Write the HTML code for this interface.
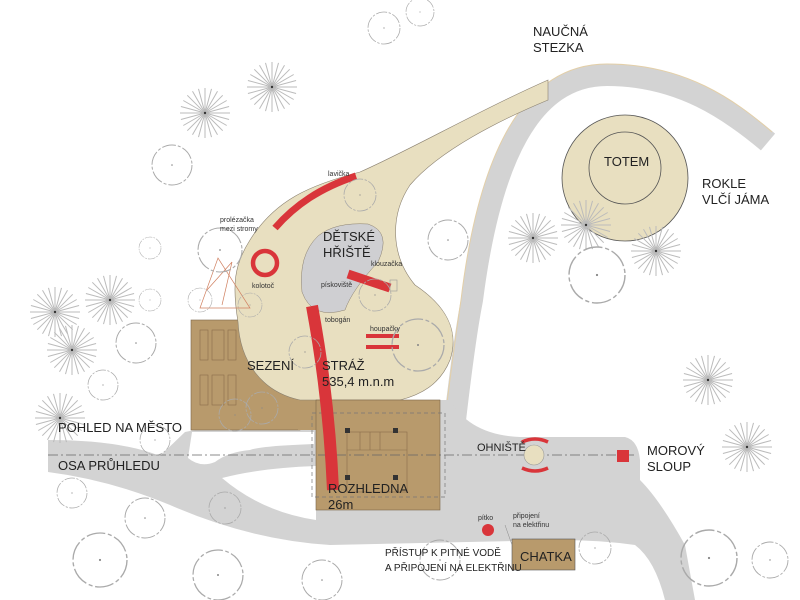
<!DOCTYPE html>
<html><head><meta charset="utf-8"><style>
html,body{margin:0;padding:0;background:#fff;}
svg{display:block;}
text{font-family:"Liberation Sans",sans-serif;fill:#222;}
.L{font-size:13px;}
.s{font-size:7px;fill:#333;}
</style></head><body>
<svg width="800" height="600" viewBox="0 0 800 600" xmlns="http://www.w3.org/2000/svg">
<defs>
<g id="st" stroke="#bbb" stroke-width="1" vector-effect="non-scaling-stroke">
<line x1="25" y1="0" x2="-25" y2="0"/><line x1="24.1" y1="6.5" x2="-24.1" y2="-6.5"/>
<line x1="21.7" y1="12.5" x2="-21.7" y2="-12.5"/><line x1="17.7" y1="17.7" x2="-17.7" y2="-17.7"/>
<line x1="12.5" y1="21.7" x2="-12.5" y2="-21.7"/><line x1="6.5" y1="24.1" x2="-6.5" y2="-24.1"/>
<line x1="0" y1="25" x2="0" y2="-25"/><line x1="-6.5" y1="24.1" x2="6.5" y2="-24.1"/>
<line x1="-12.5" y1="21.7" x2="12.5" y2="-21.7"/><line x1="-17.7" y1="17.7" x2="17.7" y2="-17.7"/>
<line x1="-21.7" y1="12.5" x2="21.7" y2="-12.5"/><line x1="-24.1" y1="6.5" x2="24.1" y2="-6.5"/>
<circle r="1.2" fill="#333" stroke="none"/>
</g>
<g id="tr"><circle r="20" fill="none" stroke="#aaa" stroke-width="1" stroke-dasharray="14 2 3 2"/><circle r="0.8" fill="#888"/></g>
</defs>

<!-- curved path road -->
<path d="M455 420 C462 360 468 320 472 300 C490 160 530 75 607 75 C680 75 730 110 768 142" fill="none" stroke="#d3d3d3" stroke-width="22"/>
<path d="M445 420 C452 360 458 320 461 300 C479 150 525 64 607 64 C685 64 735 100 772 132" fill="none" stroke="#e3cfa8" stroke-width="1"/>

<!-- main grey area -->
<path d="M48 440 Q120 440 160 456 L185 432 L195 430 L315 430 L315 400 L450 400 Q470 435 520 437 L625 437 Q638 440 640 460 L640 480 Q660 500 685 545 L695 600 L665 600 Q655 560 635 545 Q600 540 560 540 L330 545 Q250 540 170 505 Q110 480 48 472 Z" fill="#d3d3d3"/>
<!-- white islands -->
<path d="M222 478 Q260 468 316 466 L316 520 Q262 512 222 478 Z" fill="#fff"/>
<path d="M192 432 L314 432 L314 444 Q260 446 250 450 Q228 452 215 462 Q200 468 188 458 Z" fill="#fff"/>

<!-- sezeni -->
<rect x="191" y="320" width="109" height="110" fill="#b89a6c" stroke="#7a6548" stroke-width="0.6"/>
<g fill="none" stroke="#8a6e4a" stroke-width="0.6">
<rect x="200" y="330" width="8" height="30"/><rect x="212" y="330" width="12" height="30"/><rect x="228" y="330" width="8" height="30"/>
<rect x="200" y="375" width="8" height="30"/><rect x="212" y="375" width="12" height="30"/><rect x="228" y="375" width="8" height="30"/>
</g>
<rect x="298" y="400" width="20" height="30" fill="#b89a6c"/>

<!-- beige playground -->
<path d="M300 400 C262 392 240 362 238 322 C232 285 234 265 250 240 C275 200 310 185 360 172 C410 150 480 110 548 80 L548 100 C500 120 440 150 410 185 C390 215 390 255 415 285 C445 305 460 330 450 360 C440 385 420 395 400 400 Z" fill="#e8dfc0" stroke="#8a8070" stroke-width="0.6"/>

<!-- tower -->
<rect x="316" y="400" width="124" height="110" fill="#b89a6c" stroke="#7a6548" stroke-width="0.6"/>
<rect x="312" y="413" width="133" height="84" fill="none" stroke="#777" stroke-width="0.7" stroke-dasharray="4 3"/>
<g fill="none" stroke="#8a6e4a" stroke-width="0.6">
<rect x="347" y="432" width="60" height="60"/><line x1="360" y1="432" x2="360" y2="450"/><line x1="370" y1="432" x2="370" y2="450"/><line x1="380" y1="432" x2="380" y2="450"/><line x1="347" y1="450" x2="407" y2="450"/>
</g>
<g fill="#333"><rect x="345" y="428" width="5" height="5"/><rect x="393" y="428" width="5" height="5"/><rect x="345" y="475" width="5" height="5"/><rect x="393" y="475" width="5" height="5"/></g>

<!-- sandbox -->
<path d="M318 236 Q335 222 368 224 Q392 232 378 262 Q352 290 345 310 Q312 320 302 292 Q298 255 318 236 Z" fill="#cfcfd2" stroke="#8a8070" stroke-width="0.5"/>

<!-- totem -->
<circle cx="625" cy="178" r="63" fill="#e8dfc0" stroke="#555" stroke-width="0.8"/>
<circle cx="625" cy="168" r="36" fill="none" stroke="#555" stroke-width="0.8"/>

<!-- axis -->
<line x1="48" y1="455" x2="636" y2="455" stroke="#666" stroke-width="0.8" stroke-dasharray="10 3 2 3"/>

<!-- red elements -->
<path d="M275 228 C295 205 320 188 356 176" fill="none" stroke="#d9353a" stroke-width="7"/>
<circle cx="265" cy="263" r="12" fill="none" stroke="#d9353a" stroke-width="4.5"/>
<path d="M348 274 L390 288" stroke="#d9353a" stroke-width="9"/>
<rect x="390" y="280" width="7" height="11" fill="none" stroke="#999" stroke-width="0.6"/>
<path d="M312 306 C322 360 330 420 333 490" fill="none" stroke="#d9353a" stroke-width="12"/>
<line x1="366" y1="336" x2="399" y2="336" stroke="#d9353a" stroke-width="4"/>
<line x1="366" y1="347" x2="399" y2="347" stroke="#d9353a" stroke-width="4"/>
<path d="M522 442 Q535 436 548 442" fill="none" stroke="#d9353a" stroke-width="3.5"/>
<path d="M522 468 Q535 474 548 468" fill="none" stroke="#d9353a" stroke-width="3.5"/>
<circle cx="534" cy="455" r="10" fill="#e8dfc0" stroke="#999" stroke-width="0.6"/>
<rect x="617" y="450" width="12" height="12" fill="#d9353a"/>
<circle cx="488" cy="530" r="6" fill="#d9353a"/>
<!-- chatka -->
<rect x="512" y="539" width="63" height="31" fill="#b89a6c" stroke="#555" stroke-width="0.6"/>
<path d="M512 545 L505 525" stroke="#888" stroke-width="0.5"/>

<!-- prolezacka -->
<g stroke="#d08060" stroke-width="0.7" fill="none"><path d="M200 308 L218 258 L250 308 Z"/><path d="M207 290 L232 262 L222 305"/></g>

<!-- trees -->
<use href="#st" x="272" y="87"/><use href="#st" x="205" y="113"/>
<use href="#st" x="110" y="300"/><use href="#st" x="55" y="312"/>
<use href="#st" x="72" y="350"/><use href="#st" x="60" y="418"/>
<use href="#st" x="533" y="238"/><use href="#st" x="586" y="225"/><use href="#st" x="656" y="251"/>
<use href="#st" x="708" y="380"/><use href="#st" x="747" y="447"/>
<use href="#tr" transform="translate(172 165)"/>
<use href="#tr" transform="translate(150 248) scale(.55)"/>
<use href="#tr" transform="translate(150 300) scale(.55)"/>
<use href="#tr" transform="translate(384 28) scale(.8)"/>
<use href="#tr" transform="translate(420 12) scale(.7)"/>
<use href="#tr" transform="translate(448 240)"/>
<use href="#tr" transform="translate(597 275) scale(1.4)"/>
<use href="#tr" transform="translate(220 250) scale(1.1)"/>
<use href="#tr" transform="translate(200 300) scale(.6)"/>
<use href="#tr" transform="translate(250 305) scale(.6)"/>
<use href="#tr" transform="translate(360 195) scale(.8)"/>
<use href="#tr" transform="translate(375 295) scale(.8)"/>
<use href="#tr" transform="translate(418 345) scale(1.3)"/>
<use href="#tr" transform="translate(305 352) scale(.8)"/>
<use href="#tr" transform="translate(136 343)"/>
<use href="#tr" transform="translate(103 385) scale(.75)"/>
<use href="#tr" transform="translate(155 440) scale(.75)"/>
<use href="#tr" transform="translate(72 493) scale(.75)"/>
<use href="#tr" transform="translate(145 518)"/>
<use href="#tr" transform="translate(225 508) scale(.8)"/>
<use href="#tr" transform="translate(235 415) scale(.8)"/>
<use href="#tr" transform="translate(262 408) scale(.8)"/>
<use href="#tr" transform="translate(100 560) scale(1.35)"/>
<use href="#tr" transform="translate(218 575) scale(1.25)"/>
<use href="#tr" transform="translate(322 580)"/>
<use href="#tr" transform="translate(440 560)"/>
<use href="#tr" transform="translate(595 548) scale(.8)"/>
<use href="#tr" transform="translate(709 558) scale(1.4)"/>
<use href="#tr" transform="translate(770 560) scale(.9)"/>

<!-- labels -->
<text class="L" x="533" y="36">NAUČNÁ</text><text class="L" x="533" y="52">STEZKA</text>
<text class="L" x="604" y="166">TOTEM</text>
<text class="L" x="702" y="188">ROKLE</text><text class="L" x="702" y="204">VLČÍ JÁMA</text>
<text class="L" x="323" y="241">DĚTSKÉ</text><text class="L" x="323" y="257">HŘIŠTĚ</text>
<text class="L" x="247" y="370">SEZENÍ</text>
<text class="L" x="322" y="370">STRÁŽ</text><text class="L" x="322" y="386">535,4 m.n.m</text>
<text class="L" x="58" y="432">POHLED NA MĚSTO</text>
<text class="L" x="58" y="470">OSA PRŮHLEDU</text>
<text class="L" x="328" y="493">ROZHLEDNA</text><text class="L" x="328" y="509">26m</text>
<text class="L" x="477" y="451" style="font-size:11px">OHNIŠTĚ</text>
<text class="L" x="647" y="455">MOROVÝ</text><text class="L" x="647" y="471">SLOUP</text>
<text class="L" x="520" y="561">CHATKA</text>
<text x="385" y="556" style="font-size:10px">PŘÍSTUP K PITNÉ VODĚ</text>
<text x="385" y="571" style="font-size:10px">A PŘIPOJENÍ NA ELEKTŘINU</text>
<text class="s" x="328" y="176">lavička</text>
<text class="s" x="220" y="222">prolézačka</text><text class="s" x="220" y="231">mezi stromy</text>
<text class="s" x="252" y="288">kolotoč</text>
<text class="s" x="321" y="287">pískoviště</text>
<text class="s" x="371" y="266">klouzačka</text>
<text class="s" x="325" y="322">tobogán</text>
<text class="s" x="370" y="331">houpačky</text>
<text class="s" x="478" y="520">pítko</text>
<text class="s" x="513" y="518">připojení</text><text class="s" x="513" y="527">na elektřinu</text>
</svg>
</body></html>
